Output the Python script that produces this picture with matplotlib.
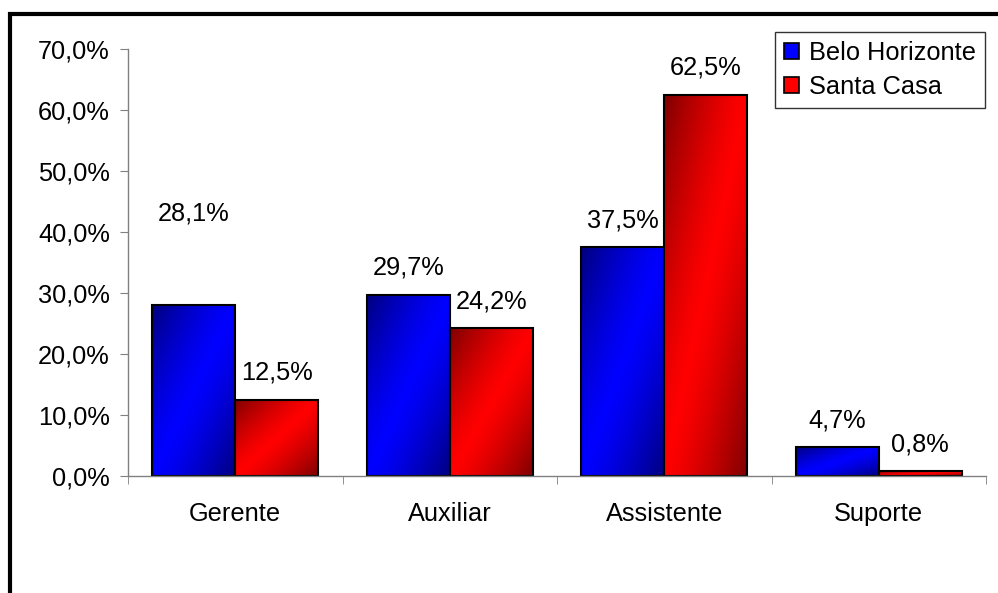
import matplotlib
matplotlib.use("Agg")

import matplotlib.pyplot as plt
import numpy as np
from matplotlib.patches import Rectangle
from matplotlib.ticker import FuncFormatter, FixedLocator

categories = ["Gerente", "Auxiliar", "Assistente", "Suporte"]
series_names = ["Belo Horizonte", "Santa Casa"]
belo_horizonte = [28.1, 29.7, 37.5, 4.7]
santa_casa = [12.5, 24.2, 62.5, 0.8]
y_ticks = [0, 10, 20, 30, 40, 50, 60, 70]

# colours (bright, dark) per series
bright = [(0, 0, 1), (1, 0, 0)]
dark = [(0, 0, 0.5), (0.5, 0, 0)]

plt.rcParams["font.family"] = ["Liberation Sans", "DejaVu Sans"]
FS = 18.3

fig = plt.figure(figsize=(9.98, 5.93), dpi=100)
ax = fig.add_axes([128 / 998, 1 - 476 / 593, 858 / 998, 427 / 593])


def gradient_img(c_bright, c_dark, n=64):
    # diagonal: dark at top-left and bottom-right, bright in the middle
    u = np.linspace(0, 1, n)[None, :]
    v = np.linspace(0, 1, n)[:, None]
    d = (u + v) / 2
    f = 1 - np.abs(2 * d - 1) ** 1.3
    img = np.zeros((n, n, 3))
    for k in range(3):
        img[:, :, k] = c_dark[k] + (c_bright[k] - c_dark[k]) * f
    return img


x = np.arange(len(categories))
width = 0.387
offsets = [-width / 2, width / 2]

for s, vals in enumerate([belo_horizonte, santa_casa]):
    bars = ax.bar(x + offsets[s], vals, width, facecolor="none",
                  edgecolor="black", linewidth=1.5, zorder=3)
    img = gradient_img(bright[s], dark[s])
    for b in bars:
        x0, y0 = b.get_x(), b.get_y()
        w, h = b.get_width(), b.get_height()
        im = ax.imshow(img, extent=[x0, x0 + w, y0, y0 + h], origin="upper",
                       aspect="auto", zorder=2, interpolation="bilinear")
        clip = Rectangle((x0, y0), w, h, transform=ax.transData)
        im.set_clip_path(clip)

# data labels (offset in points above the bar top)
label_dy = [[65.5, 19.4, 19.4, 19.4], [19.4, 19.4, 19.4, 19.4]]
for s, vals in enumerate([belo_horizonte, santa_casa]):
    for i, v in enumerate(vals):
        ax.annotate(f"{v:.1f}%".replace(".", ","), (x[i] + offsets[s], v),
                    xytext=(0, label_dy[s][i]), textcoords="offset points",
                    ha="center", va="center", fontsize=FS)

ax.set_xlim(-0.5, len(categories) - 0.5)
ax.set_ylim(0, 70)
ax.set_yticks(y_ticks)
ax.yaxis.set_major_formatter(FuncFormatter(lambda v, p: f"{v:.1f}%".replace(".", ",")))
ax.set_xticks(x)
ax.set_xticklabels(categories)
ax.xaxis.set_minor_locator(FixedLocator(np.arange(-0.5, len(categories), 1.0)))
ax.tick_params(axis="x", which="major", length=0, pad=19, labelsize=FS)
ax.tick_params(axis="x", which="minor", length=6, color="#808080", direction="out")
ax.tick_params(axis="y", length=6, color="#808080", direction="out", pad=7, labelsize=FS)

for sp in ["top", "right"]:
    ax.spines[sp].set_visible(False)
for sp in ["left", "bottom"]:
    ax.spines[sp].set_color("#808080")
    ax.spines[sp].set_linewidth(1.0)
ax.spines["bottom"].set_zorder(4)

handles = [Rectangle((0, 0), 1, 1, facecolor=bright[i], edgecolor="black", linewidth=1.2)
           for i in range(2)]
leg = fig.legend(handles, series_names, loc="upper right",
                 bbox_to_anchor=(985 / 998, 1 - 32 / 593), fontsize=FS,
                 frameon=True, fancybox=False, handlelength=0.6, handleheight=0.6,
                 handletextpad=0.4, borderpad=0.35, labelspacing=0.4, borderaxespad=0)
leg.get_frame().set_edgecolor("black")
leg.get_frame().set_linewidth(1.0)

# outer chart frame (only left and top edges fall inside the picture)
frame = Rectangle((10 / 998, -0.2), 1.2, 1.2 - 14 / 593, transform=fig.transFigure,
                  fill=False, edgecolor="black", linewidth=3)
fig.patches.append(frame)

fig.savefig("out.png", dpi=100)
